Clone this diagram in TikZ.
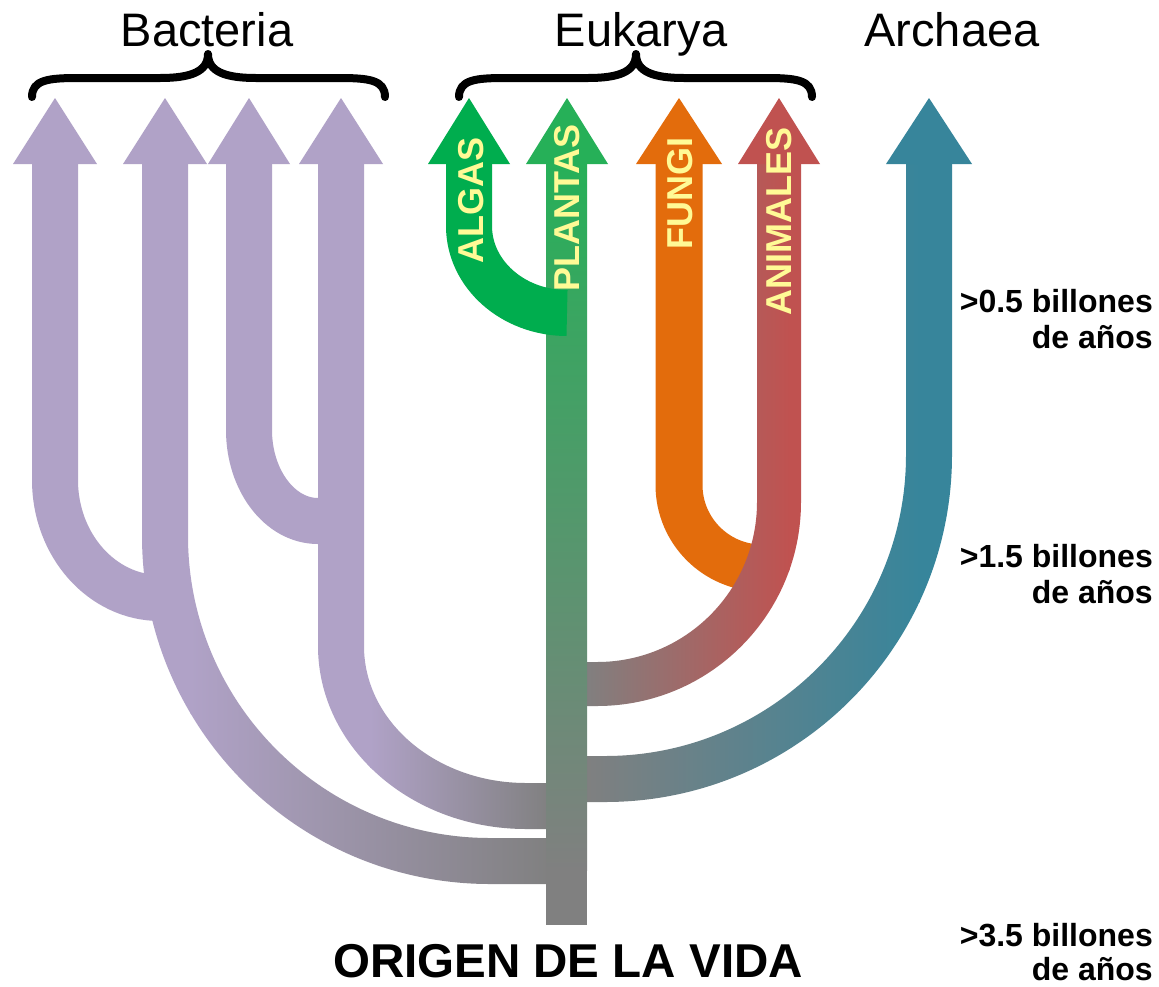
\documentclass[tikz,border=0pt]{standalone}
\usepackage{fontspec}
\setmainfont{Liberation Sans}
\definecolor{purp}{RGB}{176,162,199}
\definecolor{grn}{RGB}{0,173,78}
\definecolor{grntop}{RGB}{38,176,88}
\definecolor{org}{RGB}{227,108,12}
\definecolor{anim}{RGB}{192,82,80}
\definecolor{arch}{RGB}{55,133,155}
\definecolor{gry}{RGB}{128,128,128}
\definecolor{lblc}{RGB}{255,250,150}
\tikzset{
  band/.style={line width=46pt, line cap=butt},
  lbl/.style={text=lblc, font=\fontsize{36}{40}\selectfont\bfseries, rotate=90, inner sep=0pt},
  hdr/.style={font=\fontsize{47}{50}\selectfont, inner sep=0pt, anchor=base},
  tlab/.style={font=\fontsize{32}{36}\selectfont\bfseries, anchor=base east, inner sep=0pt},
  bracepath/.style={line width=8pt, line cap=round, line join=round}
}
\begin{document}
\begin{tikzpicture}[x=1pt,y=-1pt]
\useasboundingbox (0,0) rectangle (1159,986);
\fill[white] (0,0) rectangle (1159,986);

% --- solid side branches (drawn below their parents)
\draw[band, purp] (55,160) -- (55,480) .. controls (55,545.2) and (102,598) .. (160,598);
\draw[band, purp] (249,160) -- (249,430) .. controls (249,480.3) and (279.9,521) .. (318,521) -- (341,521);
\draw[band, org, line width=47pt] (679,160) -- (679,485) .. controls (679,530.8) and (716.2,568) .. (762,568);

% --- B2 (gradient)
\begin{scope}
  \clip (142,160) -- (142,536) .. controls (142,728.2) and (297.8,884) .. (490,884) -- (550,884) -- (550,838) -- (490,838) .. controls (323.2,838) and (188,702.8) .. (188,536) -- (188,160) -- cycle;
  \fill[purp] (100,150) rectangle (191,900);
  \shade[left color=purp, right color=gry] (190,150) rectangle (550,900);
\end{scope}
% --- B4 (gradient)
\begin{scope}
  \clip (318,160) -- (318,646) .. controls (318,747.1) and (411.1,829) .. (526,829) -- (550,829) -- (550,783) -- (526,783) .. controls (436.5,783) and (364,721.7) .. (364,646) -- (364,160) -- cycle;
  \fill[purp] (300,150) rectangle (371,850);
  \shade[left color=purp, right color=gry] (370,150) rectangle (550,850);
\end{scope}
% --- ANIMALES (gradient)
\begin{scope}
  \clip (801,160) -- (801,502) .. controls (801,614.7) and (709.7,706) .. (597,706) -- (584,706) -- (584,662) -- (597,662) .. controls (685.4,662) and (757,590.4) .. (757,502) -- (757,160) -- cycle;
  \shade[left color=gry, right color=anim] (584,150) rectangle (790,720);
  \fill[anim] (789,150) rectangle (810,720);
\end{scope}
% --- Archaea (gradient)
\begin{scope}
  \clip (952,160) -- (952,455) .. controls (952,646.6) and (796.6,802) .. (605,802) -- (584,802) -- (584,756) -- (605,756) .. controls (771.2,756) and (906,621.2) .. (906,455) -- (906,160) -- cycle;
  \shade[left color=gry, right color=arch] (584,150) rectangle (920,810);
  \fill[arch] (919,150) rectangle (960,810);
\end{scope}

% --- trunk
\shade[top color=grntop, bottom color=gry] (546,160) rectangle (587,870);
\fill[gry] (546,869) rectangle (587,925);

% --- ALGAS branch
\draw[band, grn] (469,160) -- (469,226) .. controls (469,274.1) and (512.9,313) .. (567,313);

% --- arrow heads
\fill[purp] (55,98) -- (97,164) -- (13,164) -- cycle;
\fill[purp] (165,98) -- (207,164) -- (123,164) -- cycle;
\fill[purp] (249,98) -- (290,164) -- (208,164) -- cycle;
\fill[purp] (341,98) -- (383,164) -- (299,164) -- cycle;
\fill[grn] (469,98) -- (510,164) -- (428,164) -- cycle;
\fill[grntop] (567,98) -- (608,164) -- (526,164) -- cycle;
\fill[org] (679,98) -- (722,164) -- (636,164) -- cycle;
\fill[anim] (779,98) -- (820,164) -- (738,164) -- cycle;
\fill[arch] (929,98) -- (972,164) -- (886,164) -- cycle;

% --- branch labels
\node[lbl] (algas) at (471,200) {ALGAS};
\node[lbl] (plantas) at (567,208) {PLANTAS};
\node[lbl] (fungi) at (680,193) {FUNGI};
\node[lbl] (animales) at (779,221) {ANIMALES};

% --- braces
\draw[bracepath] (32,97) .. controls (32,80) and (48,78) .. (78,78) -- (160,78) .. controls (190,78) and (208,72) .. (208,54) .. controls (208,72) and (226,78) .. (256,78) -- (339,78) .. controls (369,78) and (385,80) .. (385,97);
\draw[bracepath] (459,97) .. controls (459,80) and (475,78) .. (505,78) -- (588,78) .. controls (618,78) and (636,72) .. (636,54) .. controls (636,72) and (654,78) .. (684,78) -- (766,78) .. controls (796,78) and (812,80) .. (812,97);

% --- headers
\node[hdr] (bact) at (207,46) {Bacteria};
\node[hdr] (euk) at (641,46) {Eukarya};
\node[hdr] (arc) at (952,46) {Archaea};

% --- time labels
\node[tlab] (t1a) at (1153,312) {>0.5 billones};
\node[tlab] (t1b) at (1153,348) {de años};
\node[tlab] (t2a) at (1153,567) {>1.5 billones};
\node[tlab] (t2b) at (1153,603) {de años};
\node[tlab] (t3a) at (1153,946) {>3.5 billones};
\node[tlab] (t3b) at (1153,980) {de años};

% --- origin
\node[font=\fontsize{47.5}{50}\selectfont\bfseries, anchor=base, inner sep=0pt] (origen) at (568,977) {ORIGEN DE LA VIDA};
\end{tikzpicture}
\end{document}
